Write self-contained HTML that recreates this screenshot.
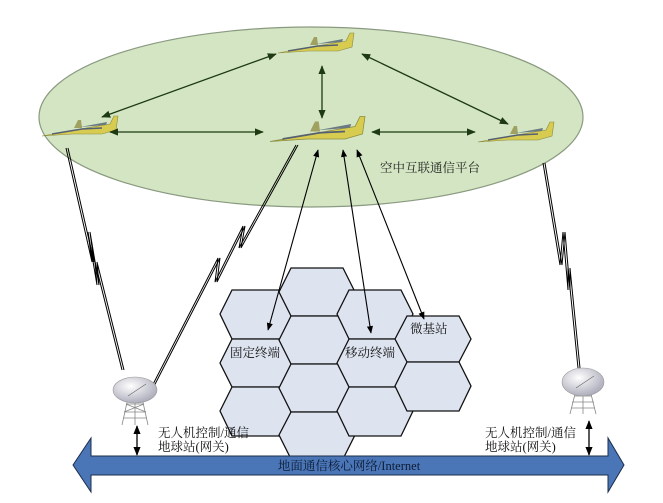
<!DOCTYPE html>
<html><head><meta charset="utf-8"><style>
html,body{margin:0;padding:0;background:#fff;}
svg{display:block;}
text{font-family:"Liberation Serif","Noto Serif CJK SC","Noto Sans CJK SC",serif;}
</style></head><body>
<svg width="663" height="503" viewBox="0 0 663 503" xmlns="http://www.w3.org/2000/svg">
<defs>
<marker id="ah" viewBox="0 0 10 10" refX="9" refY="5" markerWidth="7" markerHeight="7" orient="auto-start-reverse"><path d="M0,1 L10,5 L0,9 z" fill="#1e3a12"/></marker>
<marker id="ak" viewBox="0 0 10 10" refX="9" refY="5" markerWidth="7" markerHeight="7" orient="auto-start-reverse"><path d="M0,1 L10,5 L0,9 z" fill="#000"/></marker>
<radialGradient id="dish" cx="40%" cy="35%" r="70%"><stop offset="0" stop-color="#ffffff"/><stop offset="1" stop-color="#a8a8b8"/></radialGradient>
<g id="plane">
<path d="M-40,6 L10,-3 L28,-6 L32,-14 L36,-14 L34,0 L20,4 L-10,4 Z" fill="#d8cc50" stroke="#8a8a40" stroke-width="0.6"/>
<path d="M-30,4 L0,-1 L20,-2" stroke="#556070" stroke-width="1.5" fill="none"/>
<path d="M-8,-2 L-4,-10 L-1,-10 L0,-2 Z" fill="#a0a060"/>
<path d="M-2,-3 L25,-8 L24,-5 Z" fill="#6a7a80"/>
</g>
</defs>

<ellipse cx="311" cy="117" rx="272" ry="90" fill="#d3e5c2" stroke="#8a9a80" stroke-width="1.2"/>

<use href="#plane" x="318" y="47"/>
<use href="#plane" x="82" y="130"/>
<use href="#plane" x="320" y="134" transform="translate(320 134) scale(1.25) translate(-320 -134)"/>
<use href="#plane" x="518" y="136"/>

<g stroke="#1e3a12" stroke-width="1.3" fill="none" marker-start="url(#ah)" marker-end="url(#ah)">
<line x1="102" y1="117" x2="276" y2="54"/>
<line x1="362" y1="54" x2="508" y2="124"/>
<line x1="322" y1="66" x2="322" y2="118"/>
<line x1="110" y1="132" x2="263" y2="132"/>
<line x1="372" y1="132" x2="475" y2="132"/>
</g>
<text x="380" y="172" font-size="12.5" fill="#222">空中互联通信平台</text>

<g fill="#dde3ef" stroke="#111" stroke-width="1.3">
<polygon points="220,314 232,290 284,290 296,314 284,339 232,339"/>
<polygon points="220,363 232,339 284,339 296,363 284,387 232,387"/>
<polygon points="220,411 232,387 284,387 296,411 284,436 232,436"/>
<polygon points="279,292 291,268 343,268 355,292 343,316 291,316"/>
<polygon points="279,340 291,316 343,316 355,340 343,364 291,364"/>
<polygon points="279,388 291,364 343,364 355,388 343,412 291,412"/>
<polygon points="279,435 291,412 343,412 355,435 343,459 291,459"/>
<polygon points="337,314 349,290 401,290 413,314 401,339 349,339"/>
<polygon points="337,363 349,339 401,339 413,363 401,387 349,387"/>
<polygon points="337,411 349,387 401,387 413,411 401,436 349,436"/>
<polygon points="395,339 407,316 459,316 471,339 459,362 407,362"/>
<polygon points="395,386 407,362 459,362 471,386 459,411 407,411"/>
</g>
<g font-size="12.5" fill="#111">
<text x="230" y="357">固定终端</text>
<text x="345" y="357">移动终端</text>
<text x="410" y="333">微基站</text>
</g>

<g stroke="#000" stroke-width="1.1" fill="none" marker-start="url(#ak)" marker-end="url(#ak)">
<line x1="318" y1="150" x2="268" y2="330"/>
<line x1="343" y1="150" x2="371" y2="333"/>
<line x1="357" y1="150" x2="424" y2="319"/>
</g>

<g stroke="#000" stroke-width="1" fill="none">
<polyline points="66,148 92,262 88,232 97,285 95,262 122,370"/>
<polyline points="68,148 94,262 90,232 99,285 97,262 124,370"/>
<polyline points="296,145 239,248 243,226 215,282 218,258 148,394"/>
<polyline points="298,145 241,248 245,226 217,282 220,258 150,394"/>
<polyline points="543,163 560,265 563,232 568,290 568,268 578,368"/>
<polyline points="545,163 562,265 565,232 570,290 570,268 580,368"/>
</g>

<g stroke="#888" stroke-width="0.8" fill="none">
<path d="M128,398 L122,425 M142,398 L148,425 M135,398 L135,425 M124,412 L146,412 M123,418 L147,418 M126,404 L144,404 M124,412 L144,404 M126,404 L146,412"/>
<path d="M576,390 L570,414 M590,390 L596,414 M583,390 L583,414 M572,402 L594,402 M574,396 L592,396 M571,408 L595,408"/>
</g>
<ellipse cx="135" cy="390" rx="22" ry="13" fill="url(#dish)" stroke="#999" stroke-width="0.6"/>
<ellipse cx="583" cy="382" rx="21" ry="14" fill="url(#dish)" stroke="#999" stroke-width="0.6"/>
<path d="M128,396 L146,384" stroke="#666" stroke-width="0.6"/>
<path d="M576,388 L594,376" stroke="#666" stroke-width="0.6"/>

<path d="M73,465 L91,438 L91,456 L608,456 L608,438 L624,465 L608,492 L608,475 L91,475 L91,492 Z" fill="#4a76b8" stroke="#1b2d4a" stroke-width="1"/>
<text x="349" y="470" font-size="12.5" fill="#0d1b33" text-anchor="middle">地面通信核心网络/Internet</text>

<g stroke="#000" stroke-width="1.3" marker-start="url(#ak)" marker-end="url(#ak)">
<line x1="137" y1="426" x2="137" y2="455"/>
<line x1="589" y1="421" x2="589" y2="455"/>
</g>
<g font-size="12.5" fill="#111">
<text x="158" y="437">无人机控制/通信</text>
<text x="158" y="451">地球站(网关)</text>
<text x="485" y="437">无人机控制/通信</text>
<text x="485" y="451">地球站(网关)</text>
</g>
</svg>
</body></html>
